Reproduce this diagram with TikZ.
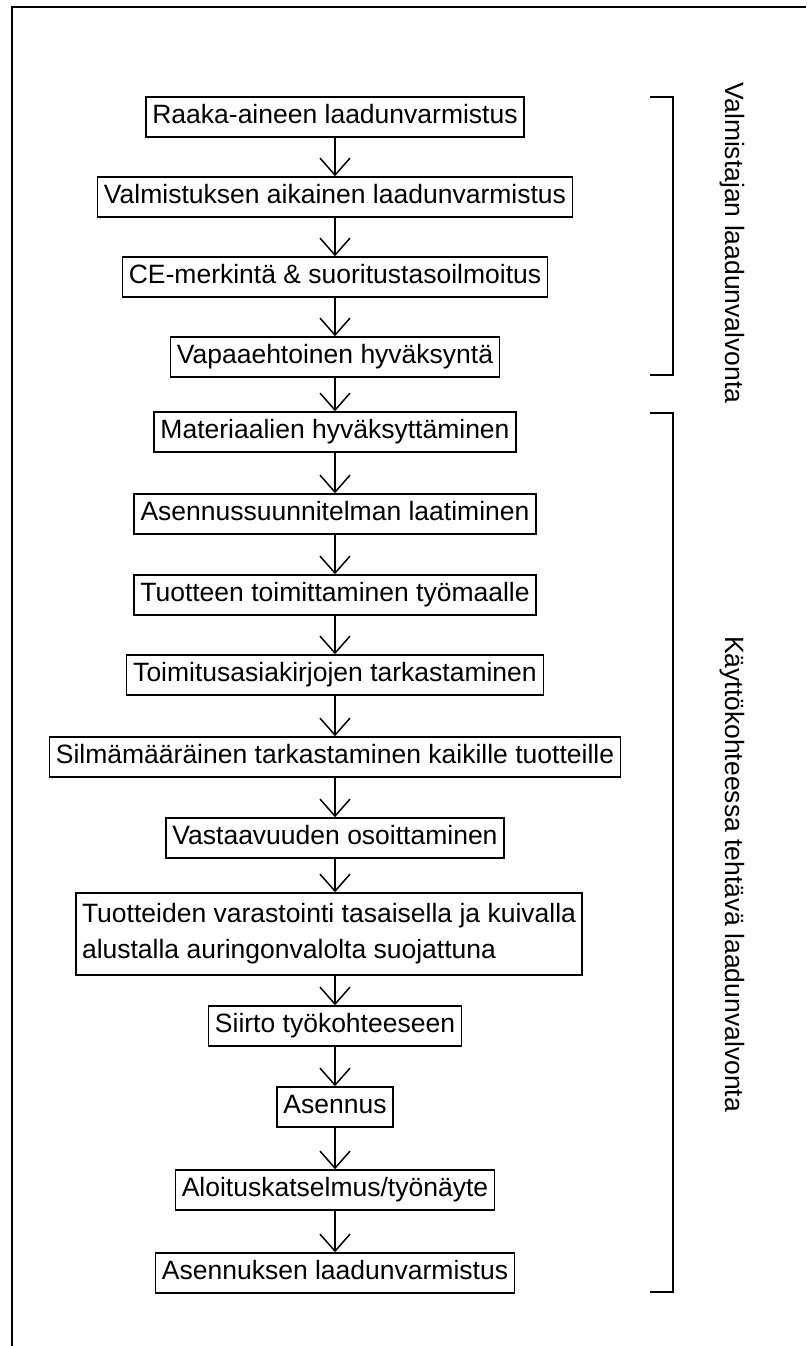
\documentclass[tikz,border=0pt]{standalone}
\usepackage{fontspec}
\setmainfont{Liberation Sans}
\usetikzlibrary{arrows.meta}
\begin{document}
\begin{tikzpicture}[x=1pt,y=-1pt,
  stepbox/.style={draw, line width=1.5pt, inner xsep=6.5pt, inner ysep=0pt,
    text height=19pt, text depth=6pt, minimum height=40pt,
    font=\fontsize{26.5}{31}\selectfont},
  twobox/.style={draw, line width=1.5pt, inner xsep=6pt, inner ysep=4pt,
    align=left, minimum height=82pt, font=\fontsize{26.5}{36}\selectfont},
  arr/.style={line width=1.5pt, -{Straight Barb[length=17pt,width=30pt]}},
  bracket/.style={line width=1.5pt},
  sidelabel/.style={rotate=-90, font=\fontsize{26.5}{31}\selectfont}]
\useasboundingbox (0,0) rectangle (806,1346);
\fill[white] (0,0) rectangle (806,1346);
\draw[line width=2pt] (806,7) -- (12,7) -- (12,1346);

\node[stepbox] (b1) at (335,117) {Raaka-aineen laadunvarmistus};
\node[stepbox] (b2) at (335,197) {Valmistuksen aikainen laadunvarmistus};
\node[stepbox] (b3) at (335,277) {CE-merkintä \& suoritustasoilmoitus};
\node[stepbox] (b4) at (335,357) {Vapaaehtoinen hyväksyntä};
\node[stepbox] (b5) at (335,432) {Materiaalien hyväksyttäminen};
\node[stepbox] (b6) at (335,514) {Asennussuunnitelman laatiminen};
\node[stepbox] (b7) at (335,595) {Tuotteen toimittaminen työmaalle};
\node[stepbox] (b8) at (335,675) {Toimitusasiakirjojen tarkastaminen};
\node[stepbox] (b9) at (335,757) {Silmämääräinen tarkastaminen kaikille tuotteille};
\node[stepbox] (b10) at (335,838) {Vastaavuuden osoittaminen};
\node[twobox] (b11) at (329,934) {Tuotteiden varastointi tasaisella ja kuivalla\\alustalla auringonvalolta suojattuna};
\node[stepbox] (b12) at (335,1026) {Siirto työkohteeseen};
\node[stepbox] (b13) at (335,1107) {Asennus};
\node[stepbox] (b14) at (335,1190) {Aloituskatselmus/työnäyte};
\node[stepbox] (b15) at (335,1273) {Asennuksen laadunvarmistus};

\foreach \a/\b in {b1/b2,b2/b3,b3/b4,b4/b5,b5/b6,b6/b7,b7/b8,b8/b9,b9/b10,b10/b11,b11/b12,b12/b13,b13/b14,b14/b15}
  \draw[arr] (\a.south -| b1.south) -- (\b.north -| b1.south);

\draw[bracket] (650,97) -- (673,97) -- (673,375) -- (650,375);
\draw[bracket] (650,413) -- (673,413) -- (673,1292) -- (650,1292);

\node[sidelabel] (l1) at (732,243) {Valmistajan laadunvalvonta};
\node[sidelabel] (l2) at (732,874) {Käyttökohteessa tehtävä laadunvalvonta};
\end{tikzpicture}
\end{document}
